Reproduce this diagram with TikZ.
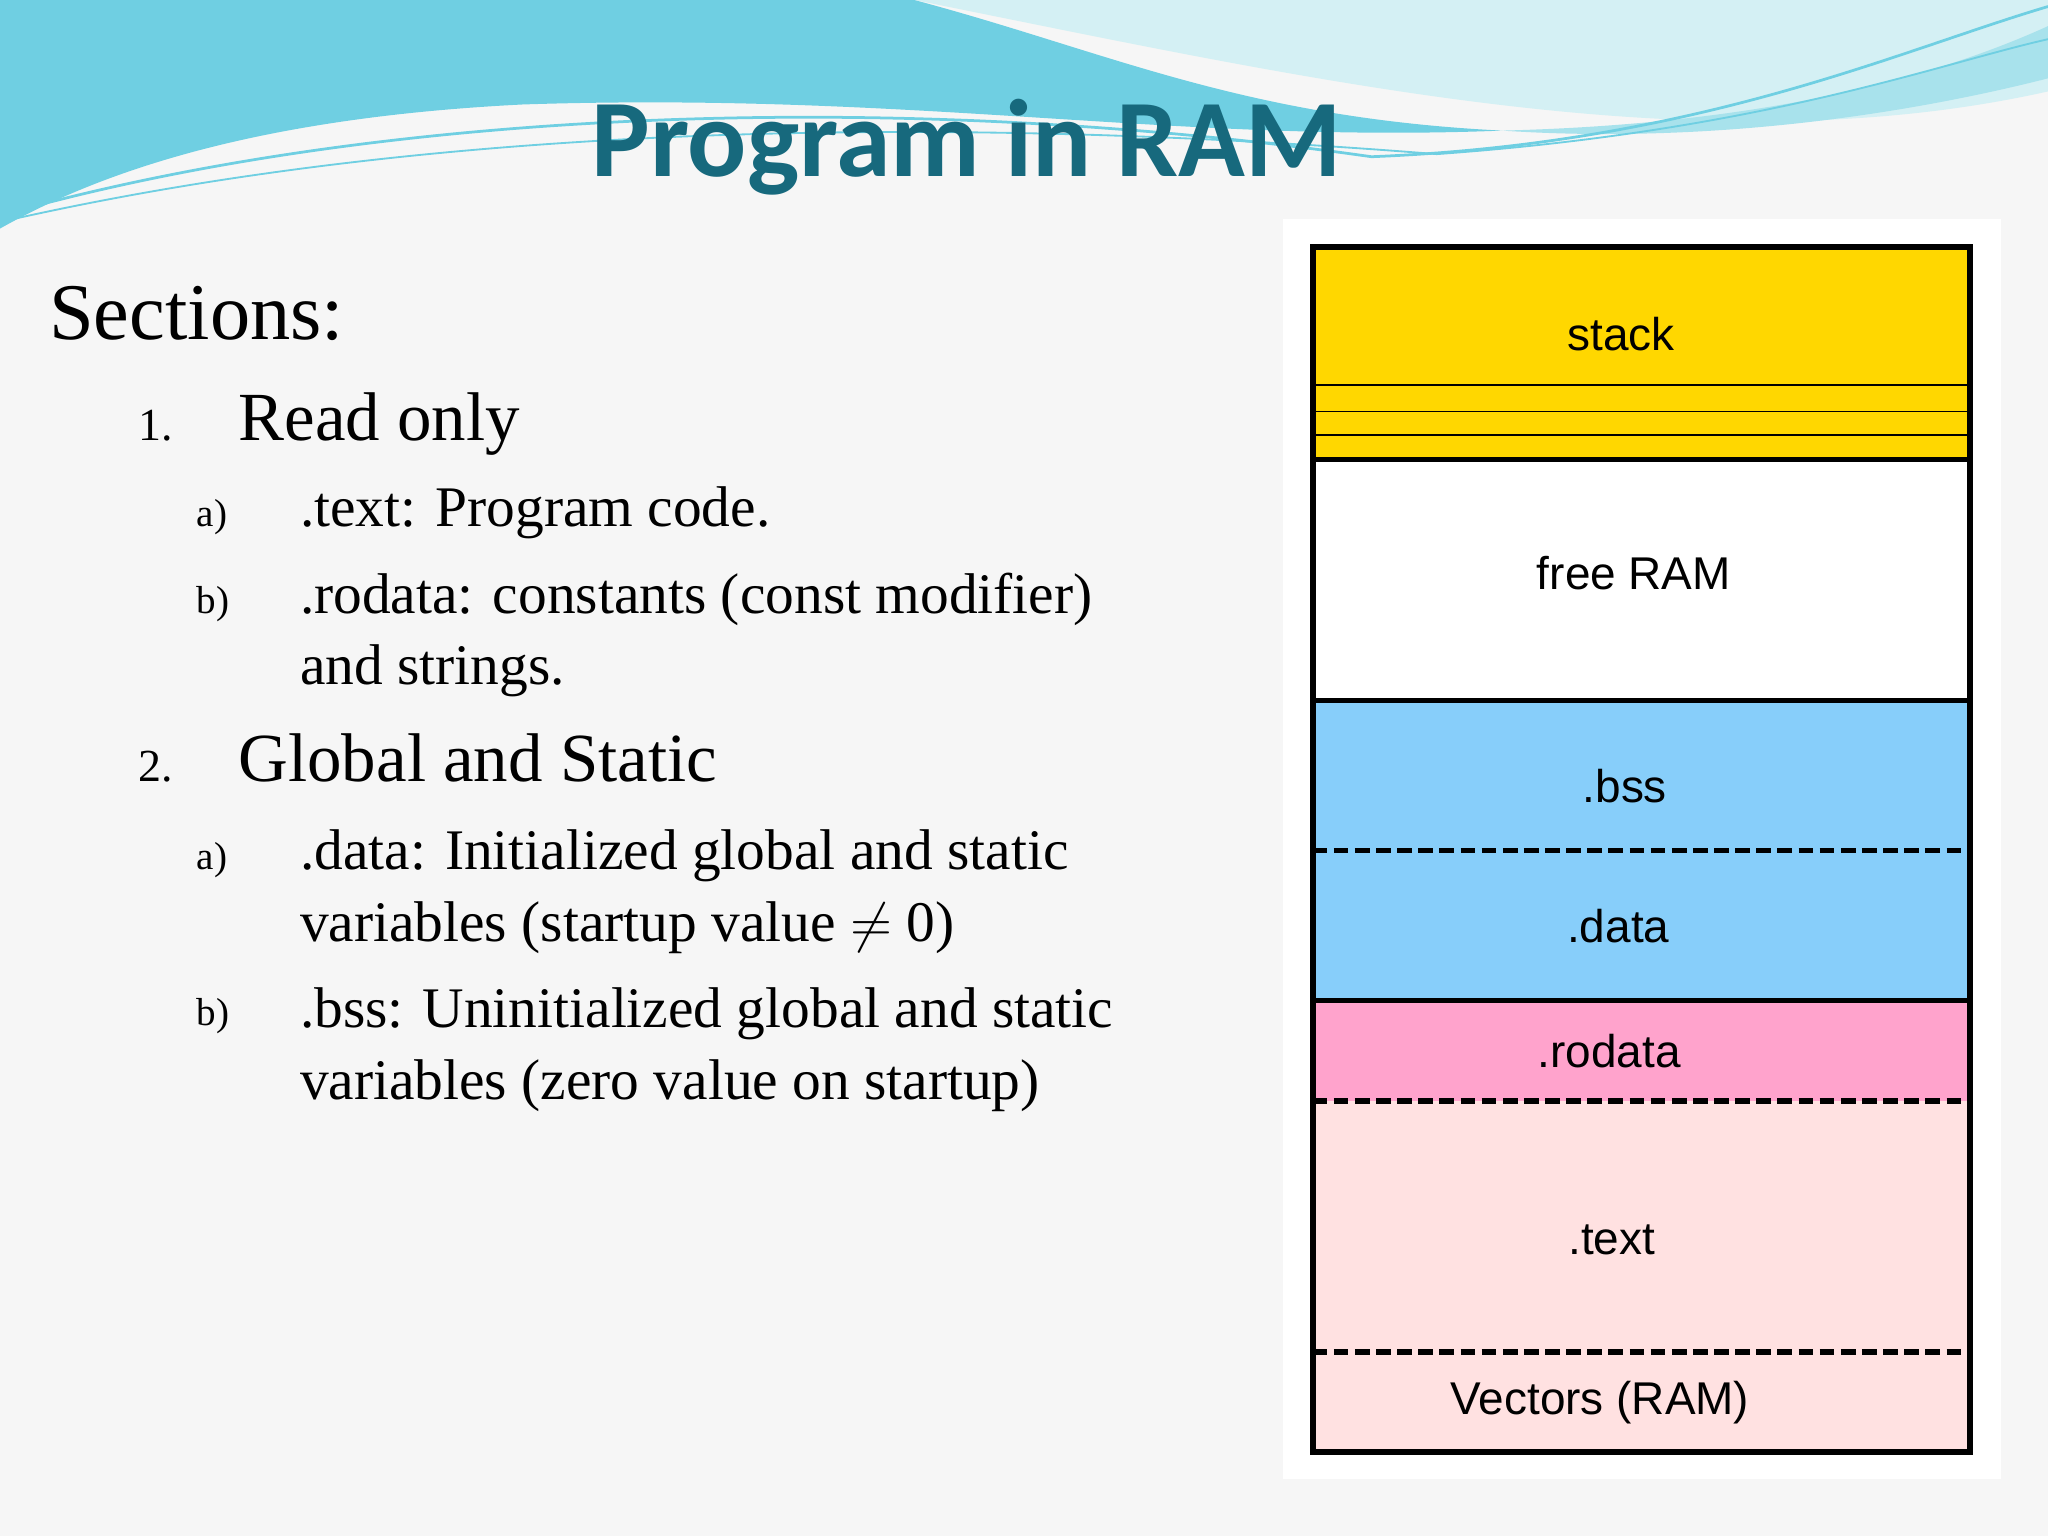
\documentclass[tikz,border=0pt]{standalone}
\usepackage{fontspec}
\setmainfont{Liberation Serif}
\newfontfamily\titlefont{Carlito}
\newfontfamily\arialf{Liberation Sans}
\definecolor{bg}{HTML}{F6F6F6}
\definecolor{ttl}{HTML}{17697D}
\definecolor{yel}{HTML}{FFD700}
\definecolor{blu}{HTML}{87CEFA}
\definecolor{pnk}{HTML}{FFA3CC}
\definecolor{lpk}{HTML}{FFE1E1}
\definecolor{wv1}{HTML}{6FCFE2}
\definecolor{wv2}{HTML}{A8E2EC}
\definecolor{wv3}{HTML}{D4F0F4}
\tikzset{
  every node/.style={inner sep=0pt},
  lab/.style={font=\arialf\fontsize{10}{12}\selectfont},
  sec/.style={draw=black,line width=1.1pt},
  dsh/.style={line width=1.2pt,dash pattern=on 3.2pt off 1.4pt},
  lvl1/.style={anchor=base west,font=\fontsize{15}{18}\selectfont},
  lvl2/.style={anchor=base west,font=\fontsize{12.5}{15.5}\selectfont},
  num/.style={anchor=base west,font=\fontsize{10}{12}\selectfont},
  sub/.style={anchor=base west,font=\fontsize{8.5}{10}\selectfont},
}
\begin{document}
\begin{tikzpicture}[x=0.01cm,y=-0.01cm]
\useasboundingbox (0,0) rectangle (1568,1176);
\fill[bg] (0,0) rectangle (1568,1176);
% waves
\fill[wv3] (0,0) -- (1568,0) -- (1568,70) .. controls (1300,130) and (1000,60) .. (700,0) -- cycle;
\fill[wv1] (0,0) -- (700,0) .. controls (850,40) and (950,90) .. (1150,100) .. controls (900,110) and (700,70) .. (400,80) .. controls (200,90) and (80,130) .. (0,175) -- cycle;
\fill[wv2] (1150,100) .. controls (1350,95) and (1480,60) .. (1568,20) -- (1568,60) .. controls (1450,90) and (1300,110) .. (1150,100) -- cycle;
\draw[wv1,line width=0.6pt] (0,165) .. controls (300,80) and (700,70) .. (1050,120) .. controls (1300,110) and (1450,40) .. (1568,5);
\draw[wv1,line width=0.4pt] (0,170) .. controls (350,90) and (750,90) .. (1100,118) .. controls (1350,100) and (1480,50) .. (1568,30);
\node[font=\titlefont\bfseries\fontsize{24}{28}\selectfont,text=ttl] (title) at (740,113) {Program in RAM};
% text
\node[anchor=base west,font=\fontsize{17.5}{21}\selectfont] (sections) at (37,260) {Sections:};
\node[num] (n1) at (105,337) {1.};
\node[lvl1] (t1) at (182,337) {Read only};
\node[sub] (a1) at (150,403) {a)};
\node[lvl2] (s1) at (229,403) {.text: Program code.};
\node[sub] (b1) at (150,470) {b)};
\node[lvl2] (s2) at (229,470) {.rodata: constants (const modifier)};
\node[lvl2] (s2b) at (229,524) {and strings.};
\node[num] (n2) at (105,598) {2.};
\node[lvl1] (t2) at (182,598) {Global and Static};
\node[sub] (a2) at (150,666) {a)};
\node[lvl2] (s3) at (229,666) {.data: Initialized global and static};
\node[lvl2] (s3b) at (229,721) {variables (startup value $\neq$ 0)};
\node[sub] (b2) at (150,785) {b)};
\node[lvl2] (s4) at (229,787) {.bss: Uninitialized global and static};
\node[lvl2] (s4b) at (229,842) {variables (zero value on startup)};
% memory map
\fill[white] (982,168) rectangle (1532,1132);
\fill[yel] (1005,190) rectangle (1508,352);
\fill[white] (1005,352) rectangle (1508,536);
\fill[blu] (1005,536) rectangle (1508,766);
\fill[pnk] (1005,766) rectangle (1508,843);
\fill[lpk] (1005,843) rectangle (1508,1112);
\draw[line width=0.4pt] (1005,295) -- (1508,295) (1005,315) -- (1508,315) (1005,333) -- (1508,333);
\draw[sec] (1005,352) -- (1508,352);
\draw[sec] (1005,536) -- (1508,536);
\draw[dsh] (1005,651) -- (1508,651);
\draw[sec] (1005,766) -- (1508,766);
\draw[dsh] (1005,843) -- (1508,843);
\draw[dsh] (1005,1035) -- (1508,1035);
\draw[line width=1.3pt] (1005,189) rectangle (1508,1112);
\node[lab] (stack) at (1241,256) {stack};
\node[lab] (free) at (1251,439) {free RAM};
\node[lab] (bss) at (1244,602) {.bss};
\node[lab] (data) at (1239,709) {.data};
\node[lab] (rodata) at (1232,805) {.rodata};
\node[lab] (text) at (1234,949) {.text};
\node[lab] (vec) at (1225,1074) {Vectors (RAM)};
\end{tikzpicture}
\end{document}
